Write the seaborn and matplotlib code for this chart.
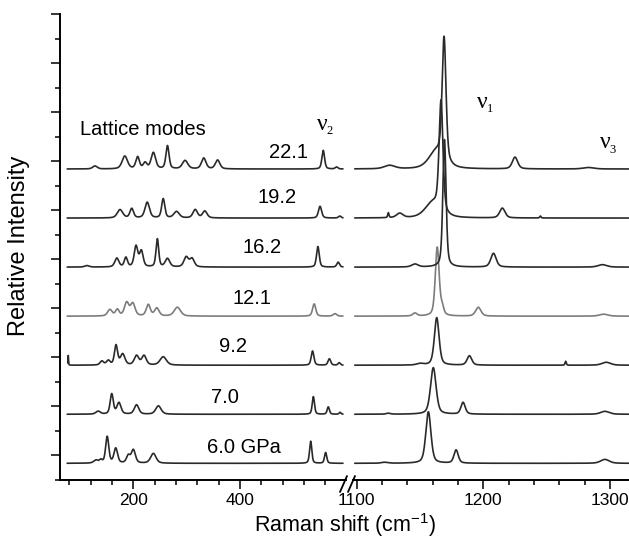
import numpy as np
import matplotlib
matplotlib.use("Agg")
import matplotlib.pyplot as plt
from matplotlib.lines import Line2D
from matplotlib.ticker import MultipleLocator
import seaborn as sns

# Raman spectra of solid SO2 at pressure; each band is (centre cm-1, height, half width)
LABELS = ["6.0 GPa", "7.0", "9.2", "12.1", "16.2", "19.2", "22.1"]

LOW_6_0 = [(130, 0.06, 5), (139, 0.06, 3), (151, 0.54, 3.5), (167, 0.30, 4), (190.5, 0.15, 4),
           (200, 0.27, 4.5), (237.5, 0.20, 6), (532.5, 0.45, 2.5), (560.5, 0.22, 2.5)]
LOW_7_0 = [(134, 0.06, 5), (159.5, 0.41, 3.5), (173, 0.23, 4.5), (206, 0.19, 5), (247, 0.17, 6),
           (537.5, 0.36, 2.5), (565.5, 0.15, 2.5), (587.5, 0.04, 2)]
LOW_9_2 = [(78, 0.20, 0.6), (141, 0.08, 4), (153, 0.09, 4), (167.5, 0.40, 3.5), (180, 0.22, 5),
           (206, 0.19, 5), (220, 0.19, 5), (256, 0.17, 7), (536, 0.29, 3), (567.5, 0.13, 3),
           (586, 0.05, 2.5)]
LOW_12_1 = [(156, 0.13, 5), (170, 0.13, 4), (187.5, 0.27, 5), (199, 0.25, 5), (228, 0.23, 4.5),
            (244, 0.16, 5), (282.5, 0.18, 7), (539, 0.25, 3.5), (578, 0.05, 4)]
LOW_16_2 = [(113, 0.03, 5), (169, 0.18, 4.5), (186, 0.19, 3.5), (205, 0.42, 4), (215, 0.32, 4),
            (245, 0.57, 3), (264, 0.17, 5), (299, 0.20, 5), (310, 0.17, 5), (546, 0.42, 3),
            (584, 0.10, 3)]
LOW_19_2 = [(175, 0.17, 6), (197, 0.19, 4), (226, 0.32, 5), (256, 0.39, 3.5), (281, 0.13, 6),
            (316, 0.17, 5), (334, 0.14, 5), (550, 0.24, 3.5), (587, 0.04, 3)]
LOW_22_1 = [(128, 0.06, 5), (184, 0.26, 6), (208, 0.24, 4), (222, 0.12, 4), (237.5, 0.33, 5),
            (264, 0.47, 3.5), (297, 0.17, 6), (332, 0.22, 5), (358, 0.18, 5), (556, 0.38, 3),
            (581, 0.04, 3)]

HIGH_6_0 = [(1122, 0.02, 3), (1156.6, 1.05, 2.4), (1178.5, 0.27, 2), (1296, 0.08, 4)]
HIGH_7_0 = [(1125, 0.02, 2), (1160.5, 0.95, 2.6), (1184, 0.24, 2), (1296, 0.06, 4)]
HIGH_9_2 = [(1150, 0.03, 3), (1163.2, 0.97, 2.2), (1189, 0.19, 2.2), (1265, 0.08, 0.6),
            (1297, 0.06, 4)]
HIGH_12_1 = [(1146, 0.06, 2), (1163.6, 1.40, 1.8), (1167.5, 0.15, 1.5), (1196, 0.18, 2.5),
             (1295, 0.04, 4)]
HIGH_16_2 = [(1146, 0.06, 3), (1169.3, 2.60, 1.5), (1208, 0.28, 2.5), (1294, 0.05, 4)]
HIGH_19_2 = [(1125, 0.10, 0.6), (1134, 0.09, 3), (1160, 0.30, 7), (1166.6, 2.25, 1.8),
             (1215, 0.20, 2.5), (1245, 0.04, 0.6)]
HIGH_22_1 = [(1126, 0.07, 5), (1163, 0.35, 7), (1169, 2.50, 1.8), (1225, 0.24, 2.5),
             (1283, 0.03, 5)]

LOW = [LOW_6_0, LOW_7_0, LOW_9_2, LOW_12_1, LOW_16_2, LOW_19_2, LOW_22_1]
HIGH = [HIGH_6_0, HIGH_7_0, HIGH_9_2, HIGH_12_1, HIGH_16_2, HIGH_19_2, HIGH_22_1]


def spectrum(x, bands, eta=0.45):
    y = np.zeros_like(x)
    for c, h, w in bands:
        d2 = (x - c) ** 2
        y += h * (eta * w ** 2 / (d2 + w ** 2) + (1 - eta) * np.exp(-np.log(2) * d2 / w ** 2))
    return y


sns.set_style("ticks")
plt.rcParams["font.family"] = ["Liberation Sans", "DejaVu Sans"]
plt.rcParams["mathtext.fontset"] = "custom"
plt.rcParams["mathtext.rm"] = "Liberation Sans"
plt.rcParams["mathtext.it"] = "Liberation Sans:italic"
plt.rcParams["text.color"] = "black"
plt.rcParams["axes.edgecolor"] = "black"
plt.rcParams["xtick.color"] = "black"
plt.rcParams["ytick.color"] = "black"

W, H = 629, 542
fig = plt.figure(figsize=(W / 100, H / 100), dpi=100)
axl = fig.add_axes([60 / W, 62 / H, 286 / W, 466 / H])
axr = fig.add_axes([353 / W, 62 / H, 276 / W, 466 / H])

x_low = np.linspace(76, 593, 3000)
x_high = np.linspace(1098.5, 1318, 3000)
for k, (lab, lo, hi) in enumerate(zip(LABELS, LOW, HIGH)):
    base = 0.34 + k
    col = "#7c7c7c" if lab == "12.1" else "#2a2a2a"
    xs = x_low[x_low >= 77] if lab == "9.2" else x_low
    sns.lineplot(x=xs, y=base + spectrum(xs, lo), ax=axl, color=col, linewidth=1.2, estimator=None)
    sns.lineplot(x=x_high, y=base + spectrum(x_high, hi), ax=axr, color=col, linewidth=1.2,
                 estimator=None)

for ax in (axl, axr):
    ax.set_ylim(0, 9.5)
    ax.set_xlabel("")
    ax.set_ylabel("")
    for s in ("top", "right"):
        ax.spines[s].set_visible(False)
    ax.spines["bottom"].set_linewidth(1.4)
    ax.spines["left"].set_linewidth(1.4)
    ax.tick_params(which="major", direction="out", length=6.5, width=1.1, labelsize=12.5, pad=3)
    ax.tick_params(which="minor", direction="out", length=3.6, width=1.1)

axl.set_xlim(62.5, 598.7)
axl.xaxis.set_major_locator(MultipleLocator(200))
axl.xaxis.set_minor_locator(MultipleLocator(40))
axl.yaxis.set_major_locator(MultipleLocator(1, offset=0.5))
axl.yaxis.set_minor_locator(MultipleLocator(0.5))
axl.set_yticklabels([])

axr.set_xlim(1097.1, 1315)
axr.xaxis.set_major_locator(MultipleLocator(100))
axr.xaxis.set_minor_locator(MultipleLocator(20))
axr.spines["left"].set_visible(False)
axr.tick_params(axis="y", which="both", left=False, labelleft=False)

# text labels
axl.text(100, 7.14, "Lattice modes", fontsize=14.5, ha="left", va="center")
label_pos = [(408, 0.67), (372, 1.69), (387, 2.73), (422.6, 3.71), (442, 4.73), (469, 5.76),
             (490, 6.67)]
for lab, (tx, ty) in zip(LABELS, label_pos):
    axl.text(tx, ty, lab, fontsize=14.5, ha="center", va="center")

# mode labels (upright serif nu with subscript), positions in pixels
for (nx, ny), sub in [((322, 124), "2"), ((482, 102), "1"), ((605, 143), "3")]:
    fig.text(nx / W, 1 - ny / H, "ν", fontsize=17, family="Liberation Serif",
             ha="center", va="center")
    fig.text((nx + 8) / W, 1 - (ny + 7) / H, sub, fontsize=9, family="Liberation Serif",
             ha="center", va="center")

fig.text(345 / W, 1 - 525 / H, "Raman shift (cm$^{-1}$)", fontsize=15.5, ha="center",
         va="center")
fig.text(19 / W, 1 - 246 / H, "Relative Intensity", fontsize=17, ha="center", va="center",
         rotation=90)

# axis break marks
for x0 in (340, 348):
    fig.add_artist(Line2D([x0 / W, (x0 + 7) / W], [1 - 492 / H, 1 - 476 / H],
                          transform=fig.transFigure, color="black", linewidth=1.3))

fig.savefig("out.png", dpi=100)
